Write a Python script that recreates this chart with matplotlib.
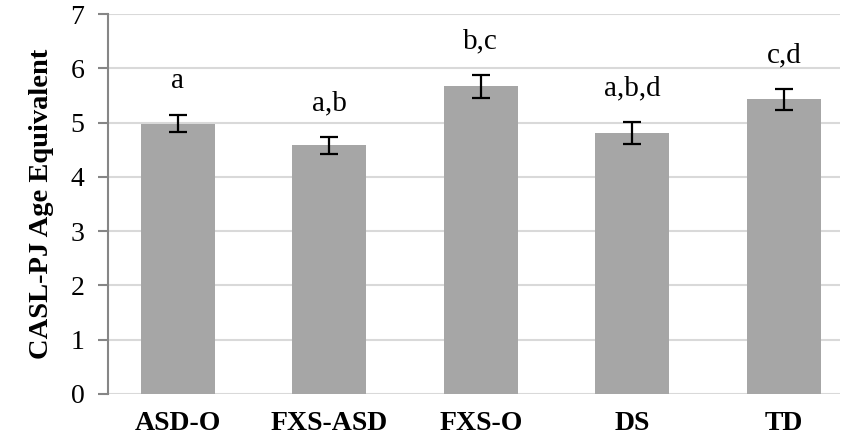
import matplotlib.pyplot as plt
import numpy as np

groups = ['ASD-O', 'FXS-ASD', 'FXS-O', 'DS', 'TD']
means = [4.98, 4.58, 5.67, 4.81, 5.43]
errors = [0.16, 0.15, 0.21, 0.20, 0.19]
letters = ['a', 'a,b', 'b,c', 'a,b,d', 'c,d']

plt.rcParams['font.family'] = ['Liberation Serif', 'DejaVu Serif']

fig = plt.figure(figsize=(8.46, 4.42), dpi=100)
ax = fig.add_axes([0.1277, 0.1086, 0.865, 0.8594])

x = np.arange(len(groups))
ax.bar(x, means, width=0.49, color='#a6a6a6', zorder=2)
ax.errorbar(x, means, yerr=errors, fmt='none', ecolor='black',
            elinewidth=1.6, capsize=6.5, capthick=1.6, zorder=3)

# буквы значимости над столбцами
for xi, m, e, lab in zip(x, means, errors, letters):
    ax.text(xi, m + e + 0.62, lab, ha='center', va='center', fontsize=21)

ax.set_xlim(-0.46, 4.37)
ax.set_ylim(0, 7)
ax.set_yticks(range(8))
ax.yaxis.grid(True, color='#d9d9d9', linewidth=1.5, zorder=0)
ax.set_axisbelow(True)

for s in ['top', 'right', 'bottom']:
    ax.spines[s].set_visible(False)
ax.spines['left'].set_color('#868686')
ax.spines['left'].set_linewidth(1.5)

ax.set_xticks(x)
ax.set_xticklabels(groups, fontsize=20, fontweight='bold')
ax.tick_params(axis='x', length=0, pad=12)
ax.tick_params(axis='y', length=7, width=1.5, color='#868686', labelsize=20, pad=10)
ax.set_ylabel('CASL-PJ Age Equivalent', fontsize=20.5, fontweight='bold', labelpad=12)

plt.savefig('out.png', dpi=100)
